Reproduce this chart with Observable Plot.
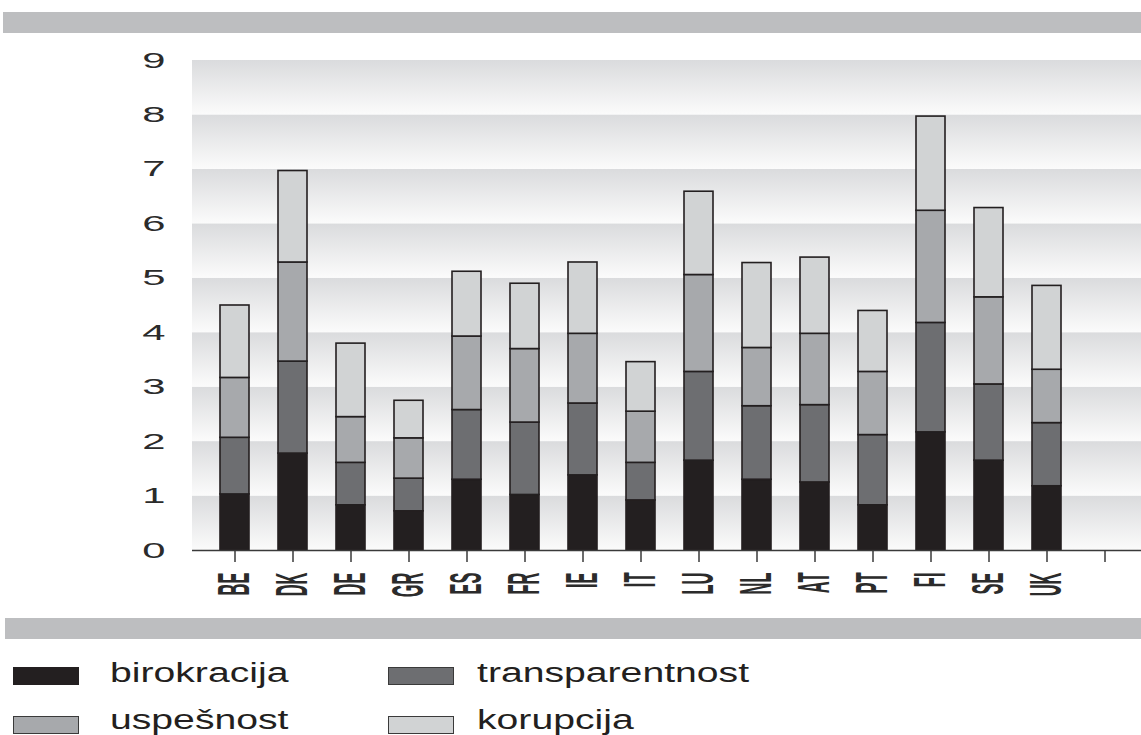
<!DOCTYPE html>
<html><head><meta charset="utf-8">
<script src="https://cdn.jsdelivr.net/npm/d3@7"></script>
<script src="https://cdn.jsdelivr.net/npm/@observablehq/plot@0.6"></script>
<style>
html,body{margin:0;padding:0;background:#fff;}
body{position:relative;width:1141px;height:735px;overflow:hidden;font-family:"Liberation Sans",Arial,sans-serif;}
.gbar{position:absolute;background:#bdbec0;height:21px;}
#chart{position:absolute;left:0;top:33px;}
.sw{position:absolute;width:66px;height:18px;box-sizing:border-box;border:1.5px solid #3a3a3a;}
.lt{position:absolute;font-size:27px;line-height:27px;color:#231f20;transform:scaleX(1.45);transform-origin:0 0;white-space:nowrap;}
#chart svg [aria-label="x-axis tick"]{stroke-width:1.5;stroke:#3a3a3a;}
#chart svg [aria-label="x-axis tick label"]{font-weight:bold;}
</style></head><body>
<div class="gbar" style="left:3px;top:12px;width:1138px"></div>
<div id="chart"></div>
<div class="gbar" style="left:5px;top:618px;width:1136px"></div>
<div id="legend"></div>
<script>
const countries = ["BE","DK","DE","GR","ES","FR","IE","IT","LU","NL","AT","PT","FI","SE","UK"];
const slots = [...countries, ""];
const series = ["birokracija","transparentnost","uspešnost","korupcija"];
const birokracija     = [1.03,1.78,0.83,0.72,1.30,1.02,1.38,0.92,1.65,1.30,1.25,0.83,2.17,1.65,1.18];
const transparentnost = [1.04,1.69,0.78,0.60,1.28,1.33,1.32,0.69,1.63,1.35,1.42,1.29,2.01,1.40,1.16];
const uspesnost       = [1.10,1.82,0.84,0.74,1.35,1.35,1.28,0.94,1.78,1.07,1.31,1.16,2.06,1.60,0.98];
const korupcija       = [1.33,1.68,1.35,0.69,1.19,1.20,1.31,0.91,1.53,1.56,1.40,1.12,1.73,1.64,1.54];
const colors = ["#231f20","#6d6e71","#a7a9ac","#d1d3d4"];
const yTicks = [0,1,2,3,4,5,6,7,8,9];
const bands = [0,1,2,3,4,5,6,7,8];

const values = [birokracija, transparentnost, uspesnost, korupcija];
const data = countries.flatMap((c, i) => series.map((s, j) => ({country: c, series: s, value: values[j][i]})));

const chart = Plot.plot({
  width: 1141,
  height: 585,
  marginLeft: 192,
  marginRight: 0,
  marginTop: 27,
  marginBottom: 68,
  style: {fontFamily: "Liberation Sans, Arial, sans-serif", fontSize: "22px", color: "#2b2b2b", background: "transparent"},
  x: {domain: slots, range: [202, 1136.4], paddingInner: 0.5, paddingOuter: 0.25, tickSize: 12, tickPadding: 10, tickRotate: -90, label: null},
  y: {domain: [0, 9], ticks: yTicks, tickSize: 0, tickPadding: 27, label: null},
  color: {domain: series, range: colors},
  marks: [
    Plot.rect(bands, {y1: d => d, y2: d => d + 1, fill: "url(#bandGrad)"}),
    Plot.barY(data, {x: "country", y: "value", fill: "series", stroke: "#231f20", strokeWidth: 1.6}),
    Plot.ruleY([0], {stroke: "#3a3a3a", strokeWidth: 1.5})
  ]
});
document.getElementById("chart").appendChild(chart);
const svg = chart.tagName.toLowerCase() === "svg" ? chart : chart.querySelector("svg");
d3.select(svg).insert("defs", ":first-child").html(
  '<linearGradient id="bandGrad" x1="0" y1="0" x2="0" y2="1"><stop offset="0" stop-color="#dadbdd"/><stop offset="1" stop-color="#fbfbfb"/></linearGradient>'
);
function stretch(sel, s) {
  d3.select(svg).selectAll(sel).each(function() {
    const t = this.getAttribute("transform");
    if (t) this.setAttribute("transform", t + " " + s);
    else {
      const x = +this.getAttribute("x") || 0, y = +this.getAttribute("y") || 0;
      this.removeAttribute("x"); this.removeAttribute("y");
      this.setAttribute("transform", `translate(${x},${y}) ${s}`);
    }
  });
}
stretch('[aria-label="y-axis tick label"] text', "scale(1.9,1)");
stretch('[aria-label="x-axis tick label"] text', "scale(0.75,2.0)");

// legend
const legend = document.getElementById("legend");
const cols = [13, 388], textCols = [110, 477], rows = [667, 716], textRows = [660, 707];
series.forEach((s, i) => {
  const c = i % 2, r = Math.floor(i / 2);
  const sw = document.createElement("div");
  sw.className = "sw";
  sw.style.left = cols[c] + "px"; sw.style.top = rows[r] + "px";
  sw.style.background = colors[i];
  if (i === 0) sw.style.borderColor = colors[0];
  legend.appendChild(sw);
  const t = document.createElement("div");
  t.className = "lt";
  t.style.left = textCols[c] + "px"; t.style.top = textRows[r] + "px";
  t.textContent = s;
  legend.appendChild(t);
});
</script>
</body></html>
